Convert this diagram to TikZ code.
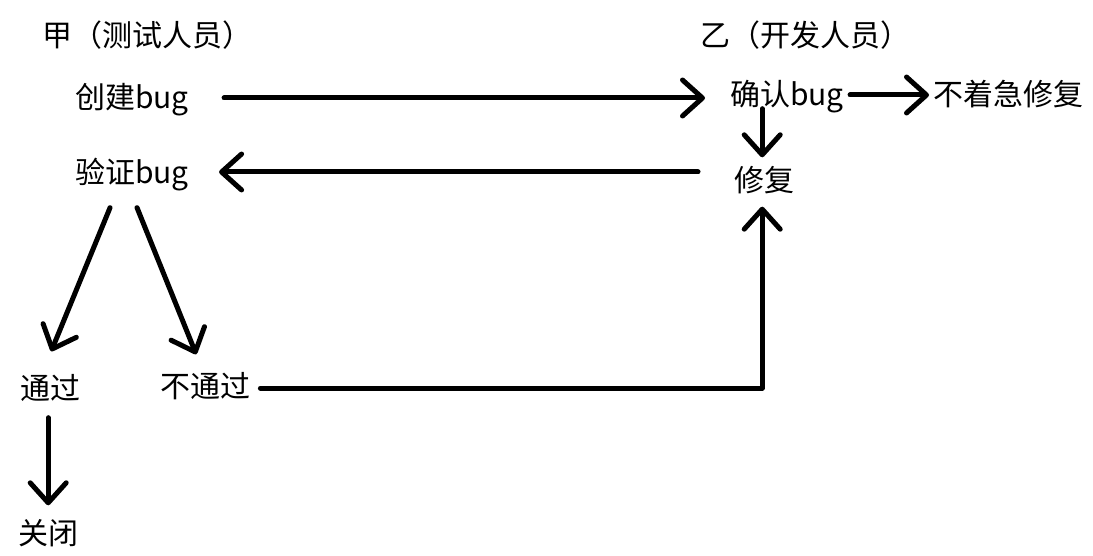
\documentclass[tikz,border=0pt]{standalone}
\usepackage{fontspec}
\newfontfamily\cjk{Noto Sans CJK SC}
\usetikzlibrary{arrows.meta,calc}
\tikzset{
  lbl/.style={inner sep=0pt, anchor=west, font=\cjk\fontsize{30}{30}\selectfont, text height=26pt, text depth=3pt},
  arr/.style={line width=5pt, -{Straight Barb[length=20pt,width=36pt,round]}, line cap=round, line join=round},
}
\begin{document}
\begin{tikzpicture}[x=1pt,y=-1pt]
\useasboundingbox[fill=white] (0,0) rectangle (1093,556);
\node[lbl] (jia) at (42,35) {甲（测试人员）};
\node[lbl] (yi) at (700,35) {乙（开发人员）};
\node[lbl] (create) at (75,97) {创建bug};
\node[lbl] (verify) at (75,172) {验证bug};
\node[lbl] (confirm) at (730,94) {确认bug};
\node[lbl] (notrush) at (933,94) {不着急修复};
\node[lbl] (fix) at (734,180) {修复};
\node[lbl] (pass) at (20,388) {通过};
\node[lbl] (fail) at (160,386) {不通过};
\node[lbl] (close) at (18,533) {关闭};
\coordinate (corner) at ($(fail.east -| fix.south)+(-2pt,-2pt)$);
\draw[arr] ($(create.east)+(35pt,-1pt)$) -- ($(create.east -| confirm.west)+(-25pt,-1pt)$);
\draw[arr] ($(verify.east -| fix.west)+(-36pt,0pt)$) -- ($(verify.east)+(30pt,0pt)$);
\draw[arr] ($(confirm.east)+(6pt,-1pt)$) -- ($(confirm.east -| notrush.west)+(-4pt,-1pt)$);
\draw[arr] ($(confirm.south -| fix.north)+(-2pt,0pt)$) -- ($(fix.north)+(-2pt,8pt)$);
\draw[arr] ($(fail.east)+(10pt,-2pt)$) -- (corner) -- ($(fix.south)+(-2pt,-12pt)$);
\draw[arr] ($(verify.south)+(-22pt,-21pt)$) -- ($(pass.north)+(1pt,22pt)$);
\draw[arr] ($(verify.south)+(5pt,-21pt)$) -- ($(fail.north)+(-9pt,17pt)$);
\draw[arr] ($(pass.south)+(-2pt,-15pt)$) -- ($(close.north)+(0pt,13pt)$);
\end{tikzpicture}
\end{document}
